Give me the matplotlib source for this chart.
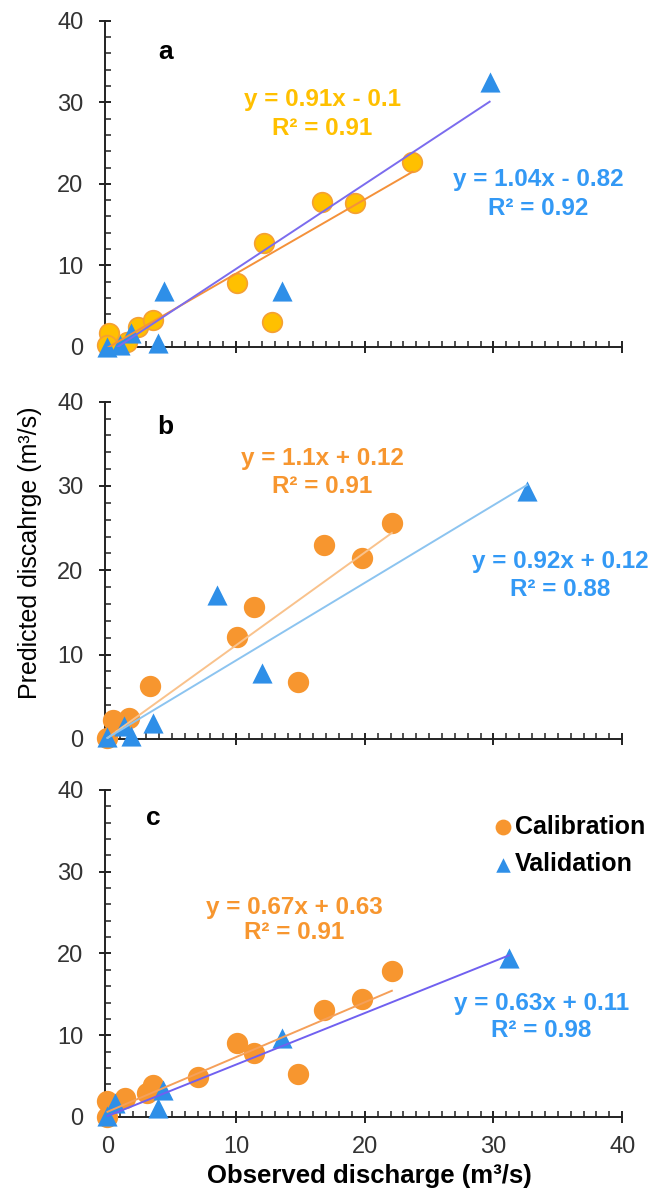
import matplotlib
matplotlib.use("Agg")
import matplotlib.pyplot as plt
import numpy as np
from matplotlib.ticker import MultipleLocator

plt.rcParams["font.family"] = ["Liberation Sans", "DejaVu Sans"]

# panel a
a_cal_x = [0.1, 0.0, 1.5, 2.4, 3.5, 10.1, 12.2, 12.8, 16.7, 19.2, 23.7]
a_cal_y = [1.7, 0.2, 0.6, 2.5, 3.3, 7.9, 12.8, 3.0, 17.8, 17.7, 22.7]
a_val_x = [0.0, 1.0, 1.8, 3.9, 4.4, 13.6, 29.7]
a_val_y = [0.0, 0.3, 1.7, 0.5, 6.8, 6.8, 32.5]
a_fit = {"cal": (0.91, -0.1), "val": (1.04, -0.82)}
a_text = {"cal": ("y = 0.91x - 0.1", "R² = 0.91"), "val": ("y = 1.04x - 0.82", "R² = 0.92")}

# panel b
b_cal_x = [0.0, 0.4, 1.7, 3.3, 10.1, 11.4, 14.8, 16.8, 19.8, 22.1]
b_cal_y = [0.1, 2.3, 2.5, 6.3, 12.1, 15.7, 6.8, 23.0, 21.4, 25.6]
b_val_x = [0.0, 1.3, 1.8, 3.5, 8.5, 12.0, 32.6]
b_val_y = [0.2, 1.5, 0.3, 1.9, 17.1, 7.8, 29.4]
b_fit = {"cal": (1.1, 0.12), "val": (0.92, 0.12)}
b_text = {"cal": ("y = 1.1x + 0.12", "R² = 0.91"), "val": ("y = 0.92x + 0.12", "R² = 0.88")}

# panel c
c_cal_x = [0.0, 0.0, 1.4, 3.1, 3.5, 7.0, 10.1, 11.4, 14.8, 16.8, 19.8, 22.1]
c_cal_y = [1.9, 0.0, 2.3, 2.9, 3.9, 4.9, 9.1, 7.8, 5.3, 13.1, 14.4, 17.9]
c_val_x = [0.0, 0.6, 3.9, 4.3, 13.6, 31.2]
c_val_y = [0.1, 1.7, 1.1, 3.3, 9.6, 19.4]
c_fit = {"cal": (0.67, 0.63), "val": (0.63, 0.11)}
c_text = {"cal": ("y = 0.67x + 0.63", "R² = 0.91"), "val": ("y = 0.63x + 0.11", "R² = 0.98")}

BLUE = "#2E8FE8"
BLUE_TXT = "#3399F5"
EQ_SIZE = 17.5

panels = [
    dict(letter="a", cal=(a_cal_x, a_cal_y), val=(a_val_x, a_val_y), fit=a_fit, text=a_text,
         cal_face="#FFC000", cal_edge="#F5A033", cal_line="#F4913A", val_line="#7B6CEE",
         cal_txt="#FFC000", pos=[0.158, 0.7082, 0.779, 0.2744],
         letter_xy=(4.5, 36.2), cal_xy=(16.7, 30.3, 26.8), val_xy=(33.5, 20.5, 17.0)),
    dict(letter="b", cal=(b_cal_x, b_cal_y), val=(b_val_x, b_val_y), fit=b_fit, text=b_text,
         cal_face="#F7962F", cal_edge="#F7962F", cal_line="#F9C28C", val_line="#8CC4F0",
         cal_txt="#F7962F", pos=[0.158, 0.3785, 0.779, 0.2837],
         letter_xy=(4.5, 37.0), cal_xy=(16.7, 33.2, 29.9), val_xy=(35.2, 21.0, 17.7)),
    dict(letter="c", cal=(c_cal_x, c_cal_y), val=(c_val_x, c_val_y), fit=c_fit, text=c_text,
         cal_face="#F7962F", cal_edge="#F7962F", cal_line="#F5A05A", val_line="#7060F0",
         cal_txt="#F7962F", pos=[0.158, 0.0606, 0.779, 0.275],
         letter_xy=(3.6, 36.6), cal_xy=(14.5, 25.6, 22.6), val_xy=(33.7, 13.9, 10.6)),
]

fig = plt.figure(figsize=(6.64, 11.89), dpi=100)

for i, p in enumerate(panels):
    ax = fig.add_axes(p["pos"])
    cx, cy = p["cal"]
    vx, vy = p["val"]
    ax.scatter(cx, cy, s=200, marker="o", facecolor=p["cal_face"], edgecolor=p["cal_edge"],
               linewidth=1.2, zorder=3, clip_on=False, label="Calibration")
    ax.scatter(vx, vy, s=210, marker="^", color=BLUE, linewidth=0, zorder=4, clip_on=False,
               label="Validation")
    m, b = p["fit"]["cal"]
    xs = np.array([0, max(cx)])
    ax.plot(xs, m * xs + b, color=p["cal_line"], lw=1.4, zorder=5)
    m, b = p["fit"]["val"]
    xs = np.array([0, max(vx)])
    ax.plot(xs, m * xs + b, color=p["val_line"], lw=1.4, zorder=5)

    ax.text(*p["letter_xy"], p["letter"], fontsize=19, fontweight="bold", ha="center", va="center")
    x0, y1, y2 = p["cal_xy"]
    for yy, s in zip((y1, y2), p["text"]["cal"]):
        ax.text(x0, yy, s, color=p["cal_txt"], fontsize=EQ_SIZE, fontweight="bold",
                ha="center", va="center")
    x0, y1, y2 = p["val_xy"]
    for yy, s in zip((y1, y2), p["text"]["val"]):
        ax.text(x0, yy, s, color=BLUE_TXT, fontsize=EQ_SIZE, fontweight="bold",
                ha="center", va="center", clip_on=False)

    ax.set_xlim(-0.2, 40)
    ax.set_ylim(0, 40)
    for s in ["top", "right"]:
        ax.spines[s].set_visible(False)
    for s in ["left", "bottom"]:
        ax.spines[s].set_linewidth(1.4)
        ax.spines[s].set_color("#222222")
    ax.xaxis.set_major_locator(MultipleLocator(10))
    ax.xaxis.set_minor_locator(MultipleLocator(1))
    ax.yaxis.set_major_locator(MultipleLocator(10))
    ax.yaxis.set_minor_locator(MultipleLocator(2))
    ax.tick_params(which="major", direction="inout", length=9, width=1.4, color="#222222",
                   labelsize=17, labelcolor="#333333")
    ax.tick_params(axis="y", pad=11)
    ax.tick_params(axis="x", pad=9)
    ax.tick_params(which="minor", direction="in", length=4, width=1.1, color="#222222")
    if i < 2:
        ax.tick_params(axis="x", labelbottom=False)
    else:
        ax.legend(loc="upper left", bbox_to_anchor=(0.735, 0.955), frameon=False,
                  handlelength=0.6, handletextpad=0.2, labelspacing=0.55,
                  borderaxespad=0, markerscale=0.72,
                  prop={"weight": "bold", "size": 18})

fig.text(0.045, 1 - 553 / 1189, "Predicted discahrge (m³/s)", rotation=90, ha="center",
         va="center", fontsize=18)
fig.text(369 / 664, 1 - 1176 / 1189, "Observed discharge (m³/s)", ha="center", va="center",
         fontsize=18.5, fontweight="bold")

fig.savefig("out.png", dpi=100)
